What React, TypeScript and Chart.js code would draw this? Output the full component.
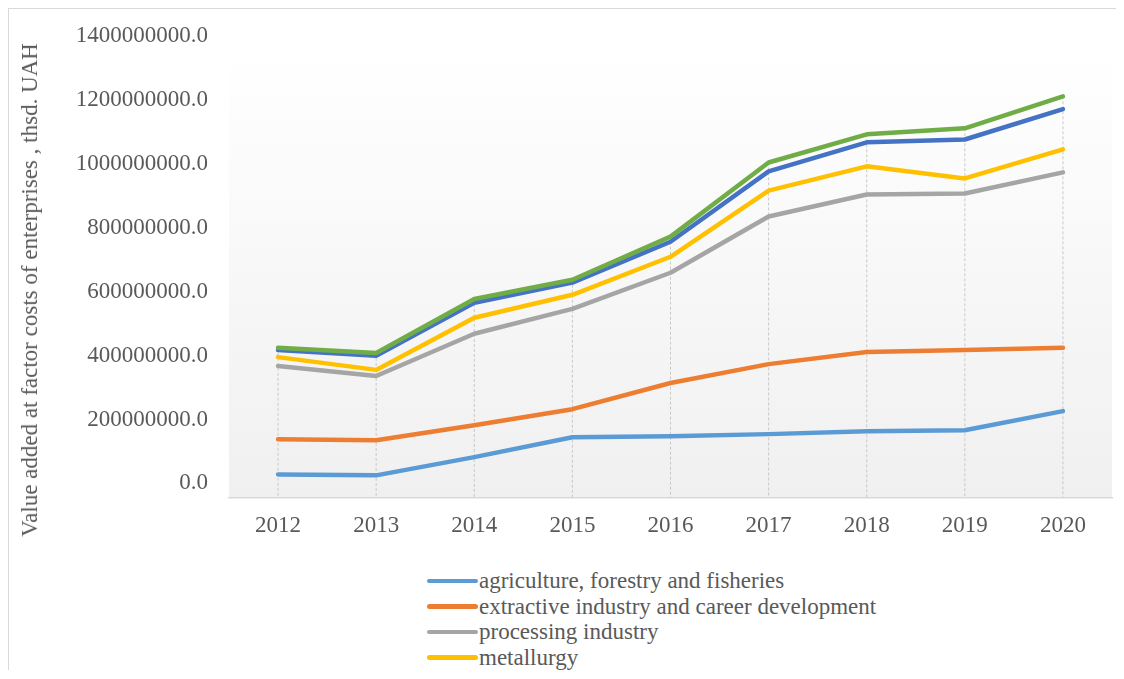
import React, { useEffect, useRef } from "react";
import { Chart, registerables } from "chart.js";

Chart.register(...registerables);

const years = ["2012", "2013", "2014", "2015", "2016", "2017", "2018", "2019", "2020"];

const seriesNames = [
  "agriculture, forestry and fisheries",
  "extractive industry and career development",
  "processing industry",
  "metallurgy",
  "electricity, gas, steam and air conditioning supply",
  "water supply, sewerage, waste management",
];

const seriesColors = ["#5B9BD5", "#ED7D31", "#A5A5A5", "#FFC000", "#4472C4", "#70AD47"];

const agriculture = [72e6, 69e6, 126e6, 188e6, 191e6, 198e6, 207e6, 210e6, 270e6];
const extractive = [182e6, 179e6, 226e6, 276e6, 358e6, 417e6, 455e6, 461e6, 468e6];
const processing = [411e6, 380e6, 512e6, 590e6, 703e6, 879e6, 948e6, 951e6, 1017e6];
const metallurgy = [439e6, 399e6, 562e6, 634e6, 753e6, 960e6, 1036e6, 998e6, 1089e6];
const electricity = [461e6, 443e6, 609e6, 672e6, 800e6, 1020e6, 1111e6, 1120e6, 1215e6];
const water = [468e6, 452e6, 621e6, 681e6, 816e6, 1048e6, 1136e6, 1155e6, 1255e6];

const seriesValues = [agriculture, extractive, processing, metallurgy, electricity, water];

const yMin = 0;
const yMax = 1400e6;
const yStep = 200e6;

const FONT = "'Times New Roman', 'Liberation Serif', serif";
const TEXT = "#595959";

const bgPlugin = {
  id: "plotBg",
  beforeDraw(chart: any) {
    const { ctx, chartArea } = chart;
    if (!chartArea) return;
    const g = ctx.createLinearGradient(0, chartArea.top, 0, chartArea.bottom);
    g.addColorStop(0, "#ffffff");
    g.addColorStop(1, "#f0f0f0");
    ctx.save();
    ctx.fillStyle = g;
    ctx.fillRect(chartArea.left, chartArea.top, chartArea.right - chartArea.left, chartArea.bottom - chartArea.top);
    ctx.restore();
  },
};

const dropLinePlugin = {
  id: "dropLines",
  beforeDatasetsDraw(chart: any) {
    const { ctx, chartArea, scales } = chart;
    const x = scales.x;
    const y = scales.y;
    ctx.save();
    ctx.strokeStyle = "#c8c8c8";
    ctx.lineWidth = 1;
    ctx.setLineDash([3, 2]);
    years.forEach((_, i) => {
      let top = Infinity;
      chart.data.datasets.forEach((ds: any) => {
        const py = y.getPixelForValue(ds.data[i]);
        if (py < top) top = py;
      });
      const px = x.getPixelForValue(i);
      ctx.beginPath();
      ctx.moveTo(px, top);
      ctx.lineTo(px, chartArea.bottom);
      ctx.stroke();
    });
    ctx.restore();
  },
};

export default function App() {
  const canvasRef = useRef<HTMLCanvasElement | null>(null);

  useEffect(() => {
    if (!canvasRef.current) return;
    const chart = new Chart(canvasRef.current, {
      type: "line",
      data: {
        labels: years,
        datasets: seriesValues.map((vals, i) => ({
          label: seriesNames[i],
          data: vals,
          borderColor: seriesColors[i],
          backgroundColor: seriesColors[i],
          borderWidth: 4.5,
          pointRadius: 0,
          tension: 0,
          borderCapStyle: "round" as const,
          borderJoinStyle: "round" as const,
          order: seriesValues.length - i,
        })),
      },
      options: {
        animation: false,
        responsive: false,
        maintainAspectRatio: false,
        layout: { padding: { left: 0, right: 4, top: 41, bottom: 0 } },
        plugins: {
          legend: { display: false },
          tooltip: { enabled: false },
        },
        scales: {
          x: {
            offset: true,
            grid: { display: false, drawTicks: false },
            border: { display: true, color: "#d9d9d9", width: 1.5 },
            ticks: {
              color: TEXT,
              font: { family: FONT, size: 23 },
              padding: 15,
              maxRotation: 0,
            },
          },
          y: {
            min: yMin,
            max: yMax,
            grid: { display: false, drawTicks: false },
            border: { display: false },
            ticks: {
              stepSize: yStep,
              color: TEXT,
              font: { family: FONT, size: 23 },
              padding: 21,
              labelOffset: -14,
              callback: (v: any) => Number(v).toFixed(1),
            },
            afterFit: (scale: any) => {
              scale.width = 220;
            },
          },
        },
      },
      plugins: [bgPlugin, dropLinePlugin],
    });
    return () => chart.destroy();
  }, []);

  return (
    <div style={{ position: "relative", width: 1116, height: 662, overflow: "hidden" }}>
      <div
        style={{
          position: "absolute",
          left: 0,
          top: 0,
          width: 1140,
          height: 720,
          border: "1px solid #d9d9d9",
          boxSizing: "border-box",
          background: "#ffffff",
        }}
      >
        <canvas
          ref={canvasRef}
          width={1107}
          height={546}
          style={{ position: "absolute", left: 0, top: 0, width: 1107, height: 546 }}
        />
        <div
          style={{
            position: "absolute",
            left: 21,
            top: 281,
            transform: "translate(-50%, -50%) rotate(-90deg)",
            whiteSpace: "nowrap",
            fontFamily: FONT,
            fontSize: 23,
            color: TEXT,
            lineHeight: "26px",
          }}
        >
          Value added at factor costs of enterprises , thsd. UAH
        </div>
        <div style={{ position: "absolute", left: 418, top: 559 }}>
          {seriesNames.map((name, i) => (
            <div
              key={name}
              style={{ display: "flex", alignItems: "center", height: 25.5, whiteSpace: "nowrap" }}
            >
              <span
                style={{
                  display: "inline-block",
                  width: 51,
                  height: 4.5,
                  borderRadius: 2.5,
                  background: seriesColors[i],
                  marginRight: 1,
                }}
              />
              <span style={{ fontFamily: FONT, fontSize: 23, color: TEXT, lineHeight: "25.5px" }}>
                {name}
              </span>
            </div>
          ))}
        </div>
      </div>
    </div>
  );
}
